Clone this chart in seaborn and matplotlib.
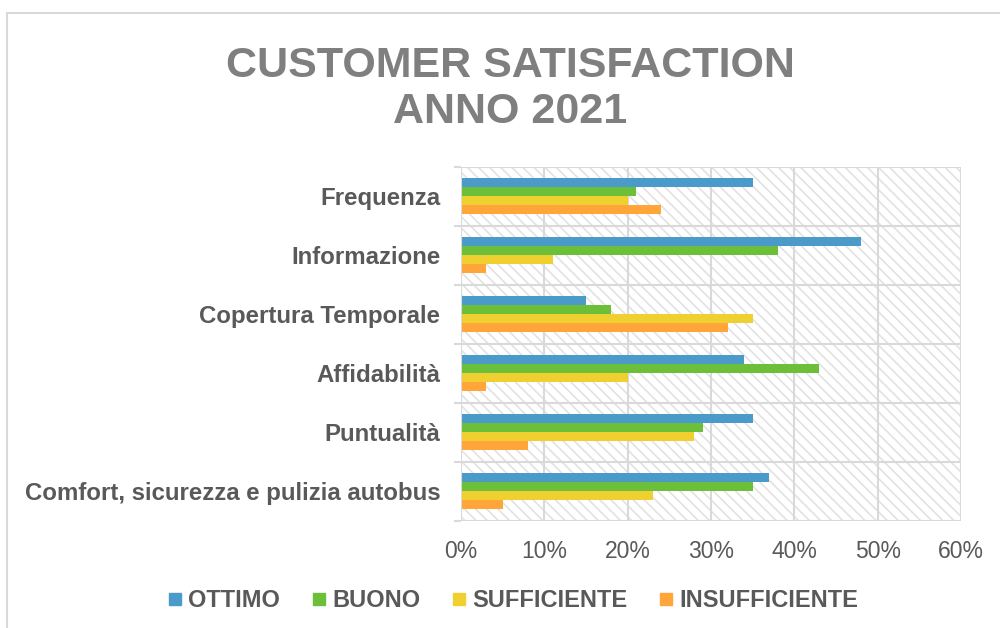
import matplotlib
matplotlib.use("Agg")
import matplotlib.pyplot as plt
from matplotlib.patches import Rectangle
from matplotlib.lines import Line2D
from matplotlib.ticker import PercentFormatter, FixedLocator
import seaborn as sns
import pandas as pd

# Survey data (percent of answers per rating)
categories = ["Frequenza", "Informazione", "Copertura Temporale", "Affidabilità",
              "Puntualità", "Comfort, sicurezza e pulizia autobus"]
ratings = ["OTTIMO", "BUONO", "SUFFICIENTE", "INSUFFICIENTE"]
ottimo = [35, 48, 15, 34, 35, 37]
buono = [21, 38, 18, 43, 29, 35]
sufficiente = [20, 11, 35, 20, 28, 23]
insufficiente = [24, 3, 32, 3, 8, 5]
x_ticks = [0, 10, 20, 30, 40, 50, 60]

colors = ["#4A9BCA", "#6CBF38", "#F0D030", "#FFA53A"]
text_gray = "#595959"
grid_gray = "#D9D9D9"

sns.set_theme(style="white")
plt.rcParams["font.family"] = ["Liberation Sans", "DejaVu Sans"]
plt.rcParams["hatch.linewidth"] = 1.2

rows = []
for rating, vals in zip(ratings, [ottimo, buono, sufficiente, insufficiente]):
    for cat, v in zip(categories, vals):
        rows.append({"categoria": cat, "giudizio": rating, "valore": v})
df = pd.DataFrame(rows)

fig = plt.figure(figsize=(10, 6.28), dpi=100)
ax = fig.add_axes([0.461, 0.1704, 0.500, 0.5642])

# hatched plot-area background (downward diagonal stripes)
bg = Rectangle((0, 0), 1, 1, transform=ax.transAxes, facecolor="white",
               edgecolor="#E2E2E2", linewidth=0, hatch="\\" * 3, zorder=0)
ax.add_patch(bg)

sns.barplot(data=df, y="categoria", x="valore", hue="giudizio",
            order=categories, hue_order=ratings, palette=colors,
            orient="h", width=0.61, gap=0, linewidth=0, saturation=1,
            legend=False, ax=ax, zorder=3)

ax.set_xlim(0, 60)
ax.set_ylim(len(categories) - 0.5, -0.5)
ax.xaxis.set_major_locator(FixedLocator(x_ticks))
ax.xaxis.set_major_formatter(PercentFormatter(xmax=100, decimals=0))
ax.set_xlabel("")
ax.set_ylabel("")

# gridlines: vertical at each 10%, horizontal at category boundaries
for xv in x_ticks[1:]:
    ax.axvline(xv, color=grid_gray, lw=1.5, zorder=1)
for k in range(len(categories) + 1):
    ax.axhline(k - 0.5, color=grid_gray, lw=1.5, zorder=1)
ax.axvline(0, color=grid_gray, lw=1.5, zorder=4)

for s in ax.spines.values():
    s.set_visible(False)

ax.tick_params(axis="x", length=0, pad=14, labelsize=16.5, labelcolor=text_gray)
ax.tick_params(axis="y", length=0, pad=15, labelsize=17.3, labelcolor=text_gray)
for lab in ax.get_yticklabels():
    lab.set_fontweight("bold")

# small tick marks at category boundaries on the left axis
ax.set_yticks([k - 0.5 for k in range(len(categories) + 1)], minor=True)
ax.tick_params(axis="y", which="minor", length=5, width=1.5, color=grid_gray, left=True)

# title
fig.text(0.51, 0.858, "CUSTOMER SATISFACTION\nANNO 2021", ha="center", va="center",
         fontsize=31, fontweight="bold", color="#7F7F7F", linespacing=1.2)

# legend
handles = [Line2D([], [], marker="s", linestyle="none", markersize=9,
                  markerfacecolor=c, markeredgecolor=c) for c in colors]
leg = fig.legend(handles, ratings, loc="center", bbox_to_anchor=(0.513, 0.043),
                 ncol=4, frameon=False, handlelength=0.6, handletextpad=0.25,
                 columnspacing=1.35, prop={"weight": "bold", "size": 17})
for t in leg.get_texts():
    t.set_color(text_gray)

# chart-area border
fig.patches.append(Rectangle((7 / 1000, -0.05), 1.1, 1 - 13 / 628 + 0.05,
                             transform=fig.transFigure, fill=False,
                             edgecolor=grid_gray, linewidth=1.5))

fig.savefig("out.png", dpi=100, facecolor="white")
